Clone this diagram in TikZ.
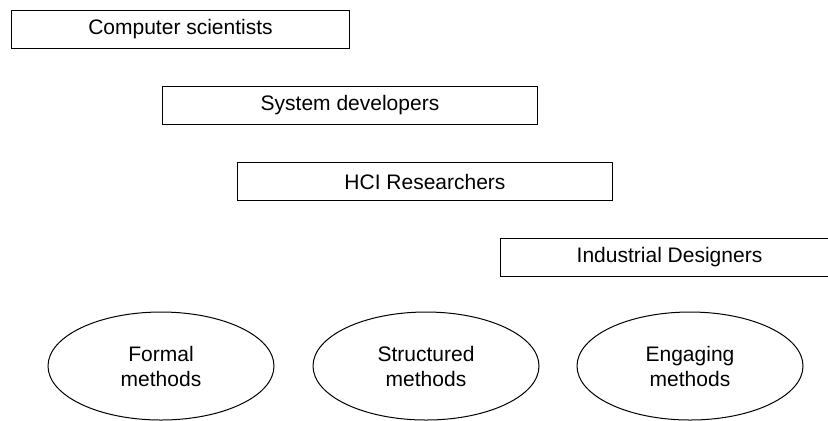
\documentclass[tikz,border=0pt]{standalone}
\usepackage{fontspec}
\setmainfont{Liberation Sans}
\usetikzlibrary{shapes.geometric, positioning}

\begin{document}
\begin{tikzpicture}[
    font=\fontsize{10.5pt}{12.5pt}\selectfont,
    every node/.style={inner sep=0pt},
    group/.style={draw, rectangle, line width=0.5pt, minimum height=19pt},
    method/.style={draw, ellipse, line width=0.5pt, minimum width=113pt, minimum height=54pt, align=center}
]
    \path[use as bounding box, clip] (0,0) rectangle (414pt,-210pt);

    % Groups
    \node (cs) [group, minimum width=169pt, anchor=north west] at (5.5pt,-5pt) {Computer scientists};
    \node (sd) [group, minimum width=187.5pt, below=18.5pt of cs.south west, anchor=north west, xshift=75.5pt] {System developers};
    \node (hci) [group, minimum width=187.5pt, below=18.5pt of sd.south west, anchor=north west, xshift=37.5pt] {HCI Researchers};
    \node (ind) [group, minimum width=169pt, below=18.5pt of hci.south west, anchor=north west, xshift=131.5pt] {Industrial Designers};

    % Methods
    \node (formal) [method] at (80.5pt,-183pt) {Formal\\methods};
    \node (struct) [method, right=19pt of formal] {Structured\\methods};
    \node (engage) [method, right=18.5pt of struct] {Engaging\\methods};
\end{tikzpicture}
\end{document}
